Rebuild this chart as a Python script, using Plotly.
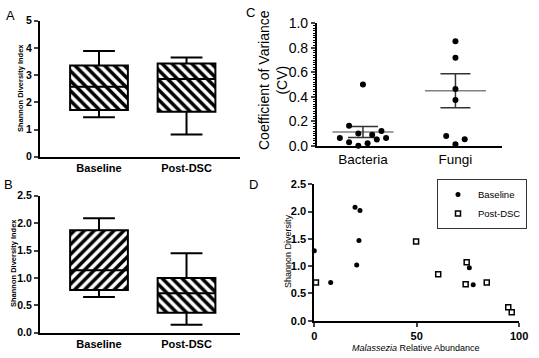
import plotly.graph_objects as go

# ---------------- data ----------------
box_cats = ["Baseline", "Post-DSC"]
# Panel A (bacteria Shannon)
a_q1 = [1.72, 1.65]
a_median = [2.57, 2.86]
a_q3 = [3.35, 3.43]
a_low = [1.45, 0.82]
a_high = [3.89, 3.65]
a_hatch = ["\\", "\\"]
# Panel B (fungi Shannon)
b_q1 = [0.78, 0.365]
b_median = [1.14, 0.72]
b_q3 = [1.87, 1.0]
b_low = [0.65, 0.146]
b_high = [2.09, 1.45]
b_hatch = ["/", "\\"]

# Panel C (coefficient of variance)
cv_cats = ["Bacteria", "Fungi"]
bacteria_cv = [0.50, 0.163, 0.063, 0.028, 0.0, 0.10, 0.02, 0.09, 0.05, 0.12, 0.063]
bacteria_jitter = [0, -0.15, -0.25, -0.15, -0.05, -0.05, 0.05, 0.1, 0.15, 0.2, 0.25]
fungi_cv = [0.853, 0.719, 0.463, 0.373, 0.079, 0.011, 0.052]
fungi_jitter = [0, 0, 0, 0, -0.1, 0, 0.1]
cv_mean = [0.112, 0.449]
cv_sem = [0.044, 0.139]

# Panel D (Shannon vs Malassezia abundance)
base_x = [0, 8.0, 19.9, 22.3, 21.8, 20.7, 75.7, 77.6]
base_y = [1.28, 0.70, 2.08, 2.02, 1.47, 1.02, 0.97, 0.66]
post_x = [0.8, 49.7, 60.5, 74.4, 73.9, 84.2, 94.7, 96.4]
post_y = [0.70, 1.45, 0.85, 1.07, 0.667, 0.70, 0.245, 0.154]

# ---------------- figure ----------------
W, H = 539, 358
FONT = "Arial, Liberation Sans, sans-serif"
fig = go.Figure()

def px_x(p):
    return p / W

def px_y(p):
    return 1 - p / H

pos = [0, 1]
BOXW = 0.66

def add_box_panel(xa, ya, q1, med, q3, lo, hi, hatch):
    fig.add_trace(go.Bar(
        x=pos, y=[b - a for a, b in zip(q1, q3)], base=q1, width=BOXW,
        marker=dict(color="white", line=dict(width=0),
                    pattern=dict(shape=hatch, fgcolor="black", bgcolor="white",
                                 size=7, solidity=0.5, fgopacity=1)),
        xaxis=xa, yaxis=ya, showlegend=False, hoverinfo="skip"))
    fig.add_trace(go.Box(
        x=pos, q1=q1, median=med, q3=q3, lowerfence=lo, upperfence=hi,
        width=BOXW, whiskerwidth=0.55, fillcolor="rgba(0,0,0,0)",
        line=dict(color="black", width=2), xaxis=xa, yaxis=ya,
        showlegend=False, boxpoints=False))

add_box_panel("x", "y", a_q1, a_median, a_q3, a_low, a_high, a_hatch)
add_box_panel("x2", "y2", b_q1, b_median, b_q3, b_low, b_high, b_hatch)

# Panel C
MEANHW = 0.33
mx, my = [], []
for i, m in enumerate(cv_mean):
    mx += [i - MEANHW, i + MEANHW, None]
    my += [m, m, None]
fig.add_trace(go.Scatter(x=mx, y=my, mode="lines", line=dict(color="#808080", width=1.5),
                         xaxis="x3", yaxis="y3", showlegend=False, hoverinfo="skip"))
fig.add_trace(go.Scatter(x=pos, y=cv_mean, mode="markers",
                         marker=dict(color="rgba(0,0,0,0)", size=1),
                         error_y=dict(type="data", array=cv_sem, width=15, color="#333333", thickness=1.5),
                         xaxis="x3", yaxis="y3", showlegend=False, hoverinfo="skip"))
fig.add_trace(go.Scatter(x=[0 + j for j in bacteria_jitter], y=bacteria_cv, mode="markers",
                         marker=dict(color="black", size=6), cliponaxis=False,
                         xaxis="x3", yaxis="y3", showlegend=False))
fig.add_trace(go.Scatter(x=[1 + j for j in fungi_jitter], y=fungi_cv, mode="markers",
                         marker=dict(color="black", size=6), cliponaxis=False,
                         xaxis="x3", yaxis="y3", showlegend=False))

# Panel D
fig.add_trace(go.Scatter(x=base_x, y=base_y, mode="markers", name="Baseline",
                         marker=dict(color="black", size=5, symbol="circle"), cliponaxis=False,
                         xaxis="x4", yaxis="y4"))
fig.add_trace(go.Scatter(x=post_x, y=post_y, mode="markers", name="Post-DSC",
                         marker=dict(color="white", size=5, symbol="square",
                                     line=dict(color="black", width=1.5)), cliponaxis=False,
                         xaxis="x4", yaxis="y4"))

bold_tick = dict(family=FONT, size=10.5, color="black", weight="bold")
common = dict(showgrid=False, zeroline=False, showline=True, linecolor="black", automargin=False)

fig.update_layout(
    width=W, height=H, margin=dict(l=0, r=0, t=0, b=0, autoexpand=False),
    paper_bgcolor="white", plot_bgcolor="rgba(0,0,0,0)",
    font=dict(family=FONT, color="black"),
    barmode="overlay",
    xaxis=dict(domain=[px_x(40), px_x(240)], range=[-0.674, 1.611], tickvals=pos, ticktext=box_cats,
               ticks="", linewidth=2, anchor="y", tickfont=dict(family=FONT, size=11, color="black", weight="bold"),
               **common),
    yaxis=dict(domain=[px_y(156.7), px_y(20.7)], range=[0, 5], dtick=1, ticks="outside", ticklen=4,
               tickwidth=2, linewidth=2, anchor="x", tickfont=bold_tick, **common),
    xaxis2=dict(domain=[px_x(40), px_x(240)], range=[-0.674, 1.611], tickvals=pos, ticktext=box_cats,
                ticks="", linewidth=2, anchor="y2", tickfont=dict(family=FONT, size=11, color="black", weight="bold"),
                **common),
    yaxis2=dict(domain=[px_y(332.7), px_y(195.7)], range=[0, 2.5], dtick=0.5, tickformat=".1f",
                ticks="outside", ticklen=4, tickwidth=2, linewidth=2, anchor="x2", tickfont=bold_tick, **common),
    xaxis3=dict(domain=[px_x(316.7), px_x(501.7)], range=[-0.5, 1.5], tickvals=pos, ticktext=cv_cats,
                ticks="", linewidth=1.5, anchor="y3", tickfont=dict(family=FONT, size=13.5, color="black"),
                **common),
    yaxis3=dict(domain=[px_y(145.7), px_y(23.3)], range=[0, 1], dtick=0.2, tickformat=".1f",
                ticks="outside", ticklen=4, tickwidth=1.5, linewidth=1.5, anchor="x3",
                minor=dict(dtick=0.02, ticks="outside", ticklen=2, tickwidth=1, tickcolor="black"),
                tickfont=dict(family=FONT, size=14, color="black"), **common),
    xaxis4=dict(domain=[px_x(314.3), px_x(519.1)], range=[0, 100], tickvals=[0, 50, 100],
                ticks="outside", ticklen=4, tickwidth=2, linewidth=2, anchor="y4",
                tickfont=dict(family=FONT, size=11, color="black", weight="bold"), **common),
    yaxis4=dict(domain=[px_y(320.7), px_y(184.3)], range=[0, 2.5], dtick=0.5, tickformat=".1f",
                ticks="outside", ticklen=4, tickwidth=2, linewidth=2, anchor="x4",
                tickfont=dict(family=FONT, size=11, color="black", weight="bold"), **common),
    legend=dict(x=px_x(437), y=px_y(179), xanchor="left", yanchor="top", bgcolor="white",
                bordercolor="#333333", borderwidth=1, font=dict(family=FONT, size=9.5, color="black"),
                itemwidth=30, tracegroupgap=0),
)

ann = []
def label(text, x, y, size=13, angle=0, weight="normal"):
    ann.append(dict(text=text, x=px_x(x), y=px_y(y), xref="paper", yref="paper", showarrow=False,
                    xanchor="center", yanchor="middle", textangle=angle,
                    font=dict(family=FONT, size=size, color="black", weight=weight)))

label("A", 10, 15)
label("B", 8, 184)
label("C", 250, 13)
label("D", 253, 184)
label("Shannon Diversity Index", 21, 88, size=7.5, angle=-90, weight="bold")
label("Shannon Diversity Index", 13, 263, size=7.5, angle=-90, weight="bold")
label("Coefficient of Variance<br>(CV)", 273, 80, size=14, angle=-90)
label("Shannon Diversity", 288, 251, size=9, angle=-90)
label("<i>Malassezia</i> Relative Abundance", 416, 348, size=9)
fig.update_layout(annotations=ann)

fig.write_html("out.html", config={"displayModeBar": False},
               post_script="document.body.style.margin='0';document.body.style.padding='0';")
